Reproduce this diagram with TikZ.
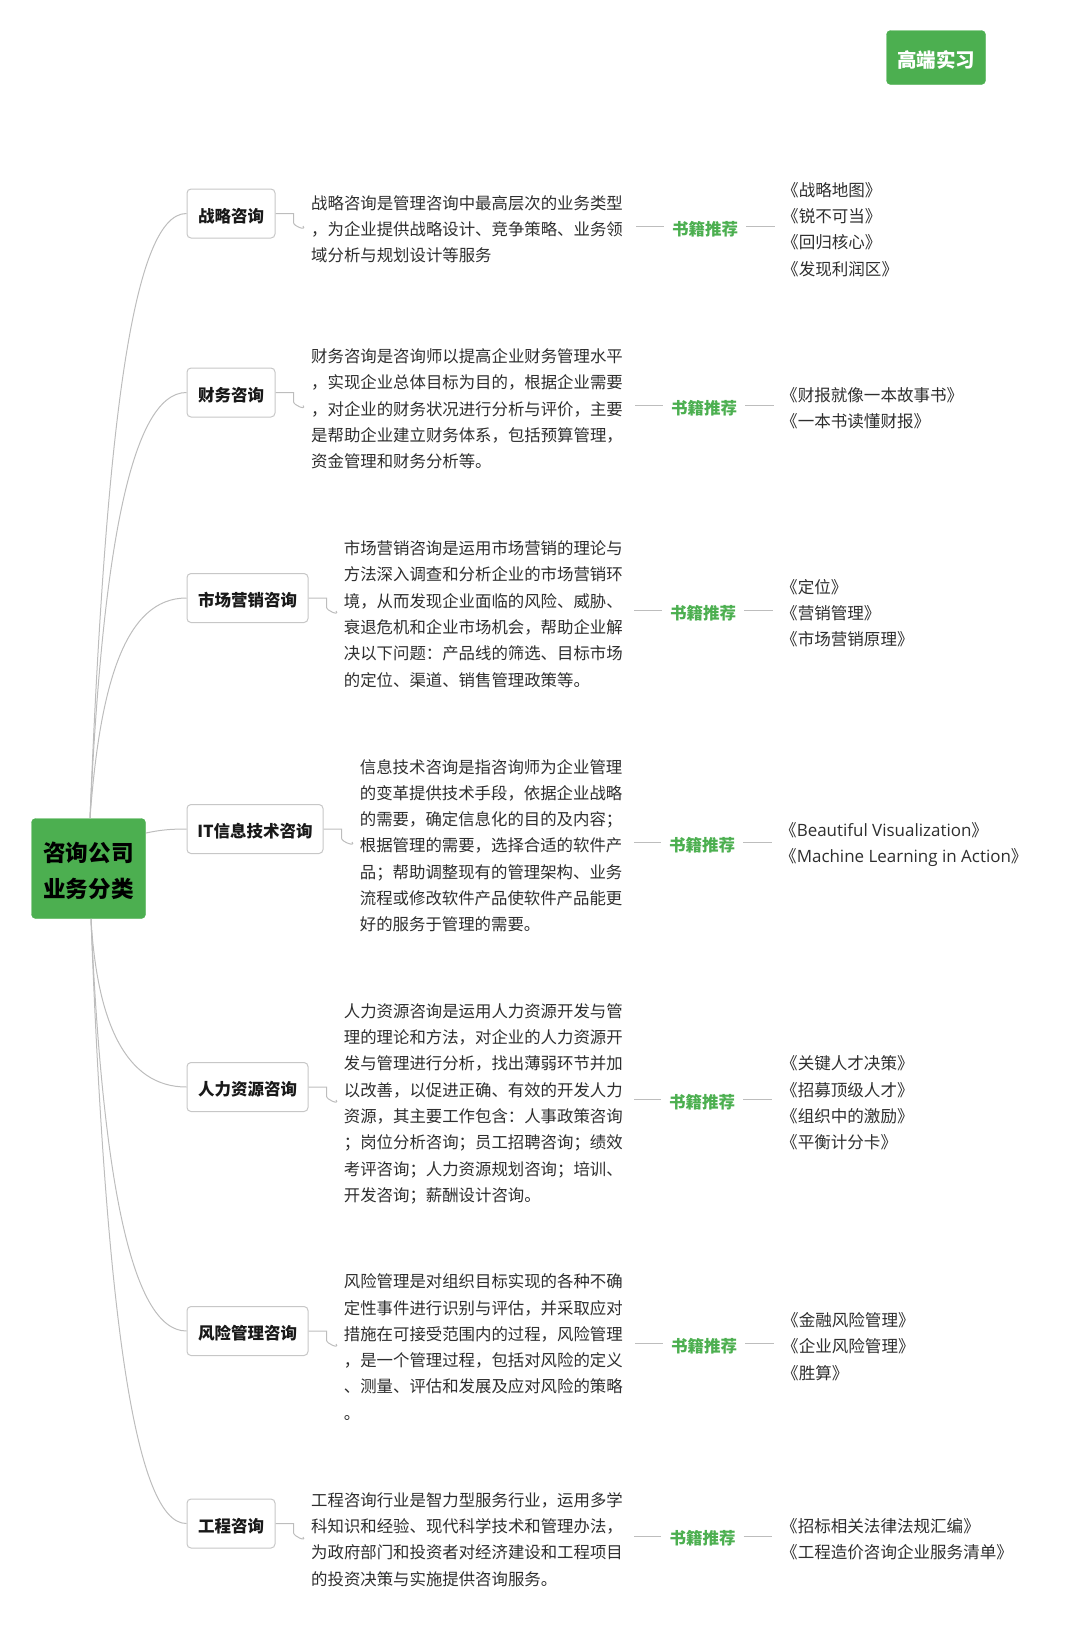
\documentclass[tikz,border=0pt]{standalone}
\usepackage{fontspec}
\setmainfont{Noto Sans CJK SC}
\newfontfamily\latfont[Scale=1.025]{Open Sans}
\definecolor{gr}{HTML}{4CAF50}
\definecolor{ln}{HTML}{BDBDBD}
\definecolor{tx}{HTML}{2E2E2E}
\tikzset{
 conn/.style={draw=ln,line width=1pt},
 rootbox/.style={fill=gr,draw=gr,rounded corners=4pt,minimum width=114pt,minimum height=100pt,align=center,inner sep=0pt,font=\fontsize{22.6}{36}\selectfont\bfseries,text=black},
 topbox/.style={fill=gr,draw=gr,rounded corners=4pt,minimum width=99pt,minimum height=54pt,inner sep=0pt,text height=21.5pt,text depth=2pt,font=\fontsize{19.5}{24}\selectfont\bfseries,text=white},
 branchbox/.style={fill=white,draw=black!22,line width=1pt,rounded corners=4pt,minimum height=49pt,inner sep=0pt,text height=19pt,text depth=2pt,font=\fontsize{16.5}{20}\selectfont\bfseries,text=black!90},
 desc/.style={anchor=west,align=left,inner sep=0pt,font=\fontsize{16.4}{26.3}\selectfont,text=tx},
 booklabel/.style={inner xsep=8pt,inner ysep=2pt,font=\fontsize{16.5}{20}\selectfont\bfseries,text=gr},
 books/.style={anchor=west,align=left,inner sep=0pt,font=\fontsize{16.55}{26.3}\selectfont,text=tx}
}
\newcommand{\elbow}[2]{\draw[conn] (#1.east) -- ++(18,0) -- ++(0,9) .. controls +(0,4) and +(4,5) .. (#2);}
\newcommand{\lablines}[3]{\draw[conn] (#2) -- (#2 -| #1.west); \draw[conn] (#3 -| #1.east) -- (#3);}
\begin{document}
\begin{tikzpicture}[x=1pt,y=-1pt]
\useasboundingbox (0,0) rectangle (1080,1625);
\node[rootbox] (root) at (88.5,868.5) {\rule{0pt}{25pt}咨询公司\\业务分类};
\node[topbox] (top) at (936,57.5) {高端实习};
\coordinate (rt) at (90,818);
\coordinate (rb) at (91,919);
\coordinate (re) at (146,833);

\node[branchbox,minimum width=88pt] (n1) at (231,213.5) {战略咨询};
\node[branchbox,minimum width=88pt] (n2) at (231,392.5) {财务咨询};
\node[branchbox,minimum width=121pt] (n3) at (247.5,598) {市场营销咨询};
\node[branchbox,minimum width=136pt] (n4) at (255,829) {IT信息技术咨询};
\node[branchbox,minimum width=121pt] (n5) at (247.5,1087) {人力资源咨询};
\node[branchbox,minimum width=121pt] (n6) at (247.5,1331) {风险管理咨询};
\node[branchbox,minimum width=88pt] (n7) at (231,1523.5) {工程咨询};

\draw[conn] (rt) .. controls (105,450) and (130,213) .. (n1.west);
\draw[conn] (rt) .. controls (102,558) and (130,392.5) .. (n2.west);
\draw[conn] (rt) .. controls (100,684) and (125,598) .. (n3.west);
\draw[conn] (re) .. controls (160,830) and (170,829) .. (n4.west);
\draw[conn] (rb) .. controls (97,1021) and (125,1087) .. (n5.west);
\draw[conn] (rb) .. controls (102,1170) and (130,1331) .. (n6.west);
\draw[conn] (rb) .. controls (105,1288) and (132,1524) .. (n7.west);

\node[desc] (d1) at (311,229.2) {战略咨询是管理咨询中最高层次的业务类型\\，为企业提供战略设计、竞争策略、业务领\\域分析与规划设计等服务};
\node[desc] (d2) at (311,409) {财务咨询是咨询师以提高企业财务管理水平\\，实现企业总体目标为目的，根据企业需要\\，对企业的财务状况进行分析与评价，主要\\是帮助企业建立财务体系，包括预算管理，\\资金管理和财务分析等。};
\node[desc] (d3) at (343.7,614) {市场营销咨询是运用市场营销的理论与\\方法深入调查和分析企业的市场营销环\\境，从而发现企业面临的风险、威胁、\\衰退危机和企业市场机会，帮助企业解\\决以下问题：产品线的筛选、目标市场\\的定位、渠道、销售管理政策等。};
\node[desc] (d4) at (359.7,845.6) {信息技术咨询是指咨询师为企业管理\\的变革提供技术手段，依据企业战略\\的需要，确定信息化的目的及内容；\\根据管理的需要，选择合适的软件产\\品；帮助调整现有的管理架构、业务\\流程或修改软件产品使软件产品能更\\好的服务于管理的需要。};
\node[desc] (d5) at (343.7,1103.8) {人力资源咨询是运用人力资源开发与管\\理的理论和方法，对企业的人力资源开\\发与管理进行分析，找出薄弱环节并加\\以改善，以促进正确、有效的开发人力\\资源，其主要工作包含：人事政策咨询\\；岗位分析咨询；员工招聘咨询；绩效\\考评咨询；人力资源规划咨询；培训、\\开发咨询；薪酬设计咨询。};
\node[desc] (d6) at (343.7,1347) {风险管理是对组织目标实现的各种不确\\定性事件进行识别与评估，并采取应对\\措施在可接受范围内的过程，风险管理\\，是一个管理过程，包括对风险的定义\\、测量、评估和发展及应对风险的策略\\。};
\node[desc] (d7) at (311,1539.5) {工程咨询行业是智力型服务行业，运用多学\\科知识和经验、现代科学技术和管理办法，\\为政府部门和投资者对经济建设和工程项目\\的投资决策与实施提供咨询服务。};

\coordinate (c1) at (303,226);
\coordinate (c2) at (303,405.5);
\coordinate (c3) at (336,611);
\coordinate (c4) at (352,842);
\coordinate (c5) at (336,1100);
\coordinate (c6) at (336,1344);
\coordinate (c7) at (303,1537);
\foreach \i in {1,...,7}{\elbow{n\i}{c\i}}

\node[booklabel] (b1) at (705,229) {书籍推荐};
\node[booklabel] (b2) at (704,408.5) {书籍推荐};
\node[booklabel] (b3) at (703,613) {书籍推荐};
\node[booklabel] (b4) at (702,845) {书籍推荐};
\node[booklabel] (b5) at (702,1102) {书籍推荐};
\node[booklabel] (b6) at (704,1346) {书籍推荐};
\node[booklabel] (b7) at (702.5,1538.6) {书籍推荐};

\coordinate (l1) at (636,226);   \coordinate (r1) at (775,226);
\coordinate (l2) at (635,405.5); \coordinate (r2) at (774,405.5);
\coordinate (l3) at (634,610.5); \coordinate (r3) at (773,610.5);
\coordinate (l4) at (634,842.5); \coordinate (r4) at (772,842.5);
\coordinate (l5) at (634,1099.5);\coordinate (r5) at (772,1099.5);
\coordinate (l6) at (635,1343);  \coordinate (r6) at (774,1343);
\coordinate (l7) at (634,1536);  \coordinate (r7) at (772,1536);
\foreach \i in {1,...,7}{\lablines{b\i}{l\i}{r\i}}

\node[books] (k1) at (782,229.3) {《战略地图》\\《锐不可当》\\《回归核心》\\《发现利润区》};
\node[books] (k2) at (781,408) {《财报就像一本故事书》\\《一本书读懂财报》};
\node[books] (k3) at (781,613.3) {《定位》\\《营销管理》\\《市场营销原理》};
\node[books] (k4) at (780,844.6) {《{\latfont Beautiful Visualization}》\\《{\latfont Machine Learning in Action}》};
\node[books] (k5) at (781,1103) {《关键人才决策》\\《招募顶级人才》\\《组织中的激励》\\《平衡计分卡》};
\node[books] (k6) at (782,1346.4) {《金融风险管理》\\《企业风险管理》\\《胜算》};
\node[books] (k7) at (781,1539) {《招标相关法律法规汇编》\\《工程造价咨询企业服务清单》};
\end{tikzpicture}
\end{document}
